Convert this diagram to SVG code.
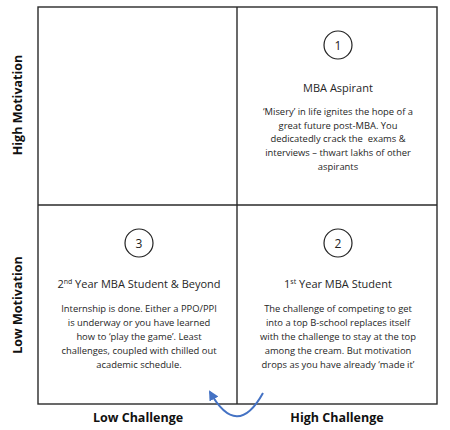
<svg xmlns="http://www.w3.org/2000/svg" width="450" height="430" viewBox="0 0 450 430">
<style>
.t{font-family:"Open Sans","Liberation Sans",sans-serif;fill:#262626;text-anchor:middle}
.h{font-size:11px}
.b{font-size:9.4px}
.ax{font-family:"Open Sans","Liberation Sans",sans-serif;font-weight:bold;font-size:12.5px;fill:#111;text-anchor:middle}
.c{fill:#fff;stroke:#222;stroke-width:1.2}
.n{font-family:"Open Sans","Liberation Sans",sans-serif;font-size:12px;fill:#222;text-anchor:middle}
</style>
<defs>
<marker id="ah" viewBox="0 0 10 10" refX="8" refY="5" markerWidth="5" markerHeight="5" orient="auto-start-reverse">
<path d="M0,0 L10,5 L0,10 z" fill="#4472C4"/>
</marker>
</defs>
<rect width="450" height="430" fill="#fff"/>
<g id="grid" fill="none" stroke="#2a2a2a" stroke-width="1.4">
<rect x="38" y="7" width="399" height="397"/>
<line x1="237" y1="7" x2="237" y2="404"/>
<line x1="38" y1="205" x2="437" y2="205"/>
</g>
<g id="q1">
<circle class="c" cx="338" cy="45" r="14"/>
<text class="n" x="338" y="49.5">1</text>
<text class="t h" x="338" y="92">MBA Aspirant</text>
<text class="t b" x="338" y="115">‘Misery’ in life ignites the hope of a</text>
<text class="t b" x="338" y="128.5">great future post-MBA. You</text>
<text class="t b" x="338" y="142" xml:space="preserve">dedicatedly crack the  exams &amp;</text>
<text class="t b" x="338" y="155.5">interviews – thwart lakhs of other</text>
<text class="t b" x="338" y="170">aspirants</text>
</g>
<g id="q2">
<circle class="c" cx="338" cy="243" r="14"/>
<text class="n" x="338" y="247.5">2</text>
<text class="t h" x="338" y="288">1<tspan font-size="7" dy="-4">st</tspan><tspan dy="4"> Year MBA Student</tspan></text>
<text class="t b" x="338" y="312">The challenge of competing to get</text>
<text class="t b" x="338" y="326">into a top B-school replaces itself</text>
<text class="t b" x="338" y="340">with the challenge to stay at the top</text>
<text class="t b" x="338" y="354">among the cream. But motivation</text>
<text class="t b" x="338" y="368">drops as you have already ‘made it’</text>
</g>
<g id="q3">
<circle class="c" cx="139" cy="243" r="14"/>
<text class="n" x="139" y="247.5">3</text>
<text class="t h" x="139" y="288">2<tspan font-size="7" dy="-4">nd</tspan><tspan dy="4"> Year MBA Student &amp; Beyond</tspan></text>
<text class="t b" x="139" y="312">Internship is done. Either a PPO/PPI</text>
<text class="t b" x="139" y="326">is underway or you have learned</text>
<text class="t b" x="139" y="340">how to ‘play the game’. Least</text>
<text class="t b" x="139" y="354">challenges, coupled with chilled out</text>
<text class="t b" x="139" y="368">academic schedule.</text>
</g>
<g id="axes">
<text class="ax" transform="translate(22,105) rotate(-90)">High Motivation</text>
<text class="ax" transform="translate(22,305) rotate(-90)">Low Motivation</text>
<text class="ax" x="138" y="422">Low Challenge</text>
<text class="ax" x="337" y="422">High Challenge</text>
</g>
<g id="connectors">
<path d="M263,393 Q237,440 210,392" fill="none" stroke="#4472C4" stroke-width="2" marker-end="url(#ah)"/>
</g>
</svg>
